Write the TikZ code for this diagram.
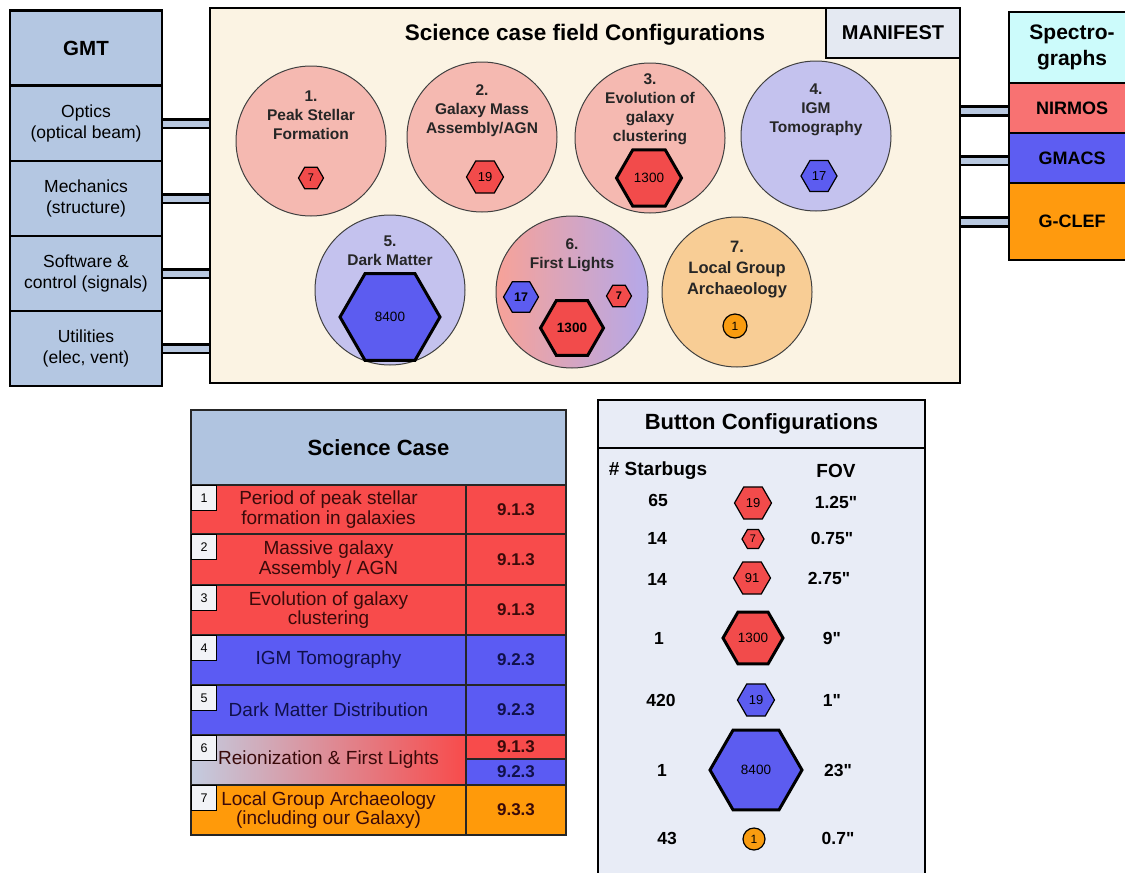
\documentclass[tikz,border=0pt]{standalone}
\usepackage{fontspec}
\setmainfont{Liberation Sans}[Ligatures=TeXOff]
\usetikzlibrary{shapes.geometric}
\pgfdeclarelayer{background}
\pgfsetlayers{background,main}
\newcommand\fsz[2]{\fontsize{#1}{#2}\selectfont}
\definecolor{gmtblue}{HTML}{B4C7E2}
\definecolor{cream}{HTML}{FBF3E3}
\definecolor{manif}{HTML}{E4E9F2}
\definecolor{cyanc}{HTML}{CCFBFB}
\definecolor{nirmos}{HTML}{F87272}
\definecolor{gmacs}{HTML}{5D5DF2}
\definecolor{gclef}{HTML}{FF9A0E}
\definecolor{pinkc}{HTML}{F5B9B1}
\definecolor{pinkd}{HTML}{F7A298}
\definecolor{lavc}{HTML}{C4C2EE}
\definecolor{lavd}{HTML}{B4A8EA}
\definecolor{peach}{HTML}{F8CD95}
\definecolor{hexred}{HTML}{F24B4B}
\definecolor{hexblue}{HTML}{5C5CF0}
\definecolor{orangec}{HTML}{F99C10}
\definecolor{tabhead}{HTML}{B0C4E0}
\definecolor{rowred}{HTML}{F84B4B}
\definecolor{rowblue}{HTML}{5B5BF3}
\definecolor{roworange}{HTML}{FF9A0A}
\definecolor{rowgray}{HTML}{C3CCE0}
\definecolor{btnbg}{HTML}{E8ECF6}
\definecolor{linkblue}{HTML}{B8C8E0}
\definecolor{tabwhite}{HTML}{F2F3F7}
\definecolor{txtred}{HTML}{3A0A0A}
\definecolor{txtblue}{HTML}{10104A}
\tikzset{
  frameline/.style={draw=black, line width=2.6pt},
  gcell/.style={frameline, fill=gmtblue, minimum width=152pt, minimum height=75pt, inner sep=0pt, align=center, font=\fsz{17.5}{21}},
  scell/.style={frameline, minimum width=126pt, inner sep=0pt, align=center, font=\bfseries\fsz{18}{22}},
  link/.style={draw=black, line width=2.6pt, double=linkblue, double distance=6pt},
  circ/.style={circle, draw=black!75, line width=1pt, minimum size=150pt, inner sep=0pt},
  ctext/.style={align=center, font=\bfseries\fsz{15.5}{19}, text=black!85, inner sep=0pt},
  hex/.style={regular polygon, regular polygon sides=6, draw=black, line width=1.2pt, inner sep=0pt},
  hexthick/.style={hex, line width=3pt},
  dot/.style={circle, draw=black, line width=1.2pt, fill=orangec, inner sep=0pt},
  tcell/.style={draw=black!85, line width=1.8pt, inner sep=0pt, align=center, font=\fsz{19}{19.5}},
  ncell/.style={draw=black!85, line width=1.8pt, inner sep=0pt, font=\bfseries\fsz{17}{20}, minimum width=100pt},
  tabbox/.style={draw=black, line width=1.2pt, fill=tabwhite, minimum width=25pt, minimum height=25pt, inner sep=0pt, font=\fsz{12.5}{14}},
  btxt/.style={font=\bfseries\fsz{17.5}{20}, inner sep=0pt},
}
\begin{document}
\begin{tikzpicture}[x=1pt, y=-1pt]
\useasboundingbox (0,0) rectangle (1125,873);
% ---------- GMT column ----------
\node[gcell, font=\bfseries\fsz{20.5}{24}] (gmt) at (86,48) {GMT};
\node[gcell] (optics) at (86,123.5) {Optics\\(optical beam)};
\node[gcell] (mech) at (86,198.5) {Mechanics\\(structure)};
\node[gcell] (soft) at (86,273.5) {Software \&\\control (signals)};
\node[gcell] (util) at (86,348.5) {Utilities\\(elec, vent)};
% ---------- main frame ----------
\node[frameline, fill=cream, minimum width=750pt, minimum height=375pt, inner sep=0pt] (frame) at (585,195.5) {};
\node[frameline, fill=manif, minimum width=134pt, minimum height=50pt, inner sep=0pt, font=\bfseries\fsz{20}{24}] (manifest) at (893,33) {MANIFEST};
\node[font=\bfseries\fsz{22.5}{26}, inner sep=0pt] (title) at (585,35) {Science case field Configurations};
% ---------- spectrographs ----------
\node[scell, fill=cyanc, minimum height=71pt, font=\bfseries\fsz{21}{26}] (spec) at (1072,47.5) {Spectro-\\graphs};
\node[scell, fill=nirmos, minimum height=50pt] (nirmos) at (1072,108) {NIRMOS};
\node[scell, fill=gmacs, minimum height=50pt] (gmacs) at (1072,158) {GMACS};
\node[scell, fill=gclef, minimum height=77pt] (gclef) at (1072,221.5) {G-CLEF};
% ---------- connectors ----------
\begin{pgfonlayer}{background}
\draw[link] (optics.east) -- (optics.east -| frame.west);
\draw[link] (mech.east) -- (mech.east -| frame.west);
\draw[link] (soft.east) -- (soft.east -| frame.west);
\draw[link] (util.east) -- (util.east -| frame.west);
\draw[link] ([yshift=-3pt]nirmos.west) -- ([yshift=-3pt]nirmos.west -| frame.east);
\draw[link] ([yshift=-2.5pt]gmacs.west) -- ([yshift=-2.5pt]gmacs.west -| frame.east);
\draw[link] ([yshift=-0.5pt]gclef.west) -- ([yshift=-0.5pt]gclef.west -| frame.east);
\end{pgfonlayer}
% ---------- circles ----------
\node[circ, fill=pinkc] (c1) at (311,141) {};
\node[ctext] (t1) at (311,115) {1.\\Peak Stellar\\Formation};
\node[hex, fill=hexred, minimum size=25pt, font=\fsz{11}{12}] (h1) at (311,178) {7};

\node[circ, fill=pinkc] (c2) at (482,137) {};
\node[ctext] (t2) at (482,111) {2.\\Galaxy Mass\\Assembly/AGN};
\node[hex, fill=hexred, minimum size=37pt, font=\fsz{13}{14}] (h2) at (485,177) {19};

\node[circ, fill=pinkc] (c3) at (650,138) {};
\node[ctext] (t3) at (650,109) {3.\\Evolution of\\galaxy\\clustering};
\node[hexthick, fill=hexred, minimum size=65pt, font=\fsz{13.5}{14}] (h3) at (649,178) {1300};

\node[circ, fill=lavc] (c4) at (816,136) {};
\node[ctext] (t4) at (816,110) {4.\\IGM\\Tomography};
\node[hex, fill=hexblue, minimum size=36pt, font=\fsz{13}{14}] (h4) at (819,176) {17};

\node[circ, fill=lavc] (c5) at (390,290) {};
\node[ctext] (t5) at (390,251) {5.\\Dark Matter};
\node[hexthick, fill=hexblue, minimum size=100pt, font=\fsz{13.5}{14}] (h5) at (390,317) {8400};

\node[circ, left color=pinkd, right color=lavd, minimum size=152pt] (c6) at (572,292) {};
\node[ctext] (t6) at (572,255) {6.\\First Lights};
\node[hex, fill=hexblue, minimum size=35pt, font=\bfseries\fsz{12.5}{14}] (h6a) at (521,297) {17};
\node[hex, fill=hexred, minimum size=25pt, font=\bfseries\fsz{11}{12}] (h6b) at (619,296) {7};
\node[hexthick, fill=hexred, minimum size=63pt, font=\bfseries\fsz{13.5}{14}] (h6c) at (572,328) {1300};

\node[circ, fill=peach] (c7) at (737,292) {};
\node[ctext, font=\bfseries\fsz{16.5}{21}] (t7) at (737,270) {7.\\Local Group\\Archaeology};
\node[dot, minimum size=24pt, font=\fsz{12}{13}] (h7) at (735,326) {1};
% ---------- Science case table ----------
\node[tcell, fill=tabhead, minimum width=375pt, minimum height=75pt, font=\bfseries\fsz{22}{26}] (sch) at (378.5,447.5) {Science Case};
\node[tcell, fill=rowred, text=txtred, minimum width=275pt, minimum height=49pt] (r1) at (328.5,509.5) {Period of peak stellar\\formation in galaxies};
\node[ncell, fill=rowred, text=txtred, minimum height=49pt] (n1) at (516,509.5) {9.1.3};
\node[tcell, fill=rowred, text=txtred, minimum width=275pt, minimum height=51pt] (r2) at (328.5,559.5) {Massive galaxy\\Assembly / AGN};
\node[ncell, fill=rowred, text=txtred, minimum height=51pt] (n2) at (516,559.5) {9.1.3};
\node[tcell, fill=rowred, text=txtred, minimum width=275pt, minimum height=50pt] (r3) at (328.5,610) {Evolution of galaxy\\clustering};
\node[ncell, fill=rowred, text=txtred, minimum height=50pt] (n3) at (516,610) {9.1.3};
\node[tcell, fill=rowblue, text=txtblue, minimum width=275pt, minimum height=50pt] (r4) at (328.5,660) {IGM Tomography};
\node[ncell, fill=rowblue, text=txtblue, minimum height=50pt] (n4) at (516,660) {9.2.3};
\node[tcell, fill=rowblue, text=txtblue, minimum width=275pt, minimum height=50pt] (r5) at (328.5,710) {Dark Matter Distribution};
\node[ncell, fill=rowblue, text=txtblue, minimum height=50pt] (n5) at (516,710) {9.2.3};
\node[tcell, left color=rowgray, right color=rowred, text=txtred, minimum width=275pt, minimum height=50pt] (r6) at (328.5,760) {Reionization \& First Lights};
\node[ncell, fill=rowred, text=txtred, minimum height=24pt] (n6a) at (516,747) {9.1.3};
\node[ncell, fill=rowblue, text=txtblue, minimum height=26pt] (n6b) at (516,772) {9.2.3};
\node[tcell, fill=roworange, text=txtred, minimum width=275pt, minimum height=50pt] (r7) at (328.5,810) {Local Group Archaeology\\(including our Galaxy)};
\node[ncell, fill=roworange, text=txtred, minimum height=50pt] (n7) at (516,810) {9.3.3};
\foreach \i/\y in {1/485,2/534,3/585,4/635,5/685,6/735,7/785}
  \node[tabbox, anchor=north west] (tab\i) at (191,\y) {\i};
% ---------- Button configurations ----------
\node[frameline, fill=btnbg, minimum width=327pt, minimum height=480pt, inner sep=0pt] (bbody) at (761.5,688) {};
\node[frameline, fill=btnbg, minimum width=327pt, minimum height=48pt, inner sep=0pt, font=\bfseries\fsz{22}{26}] (bhead) at (761.5,424) {Button Configurations};
\node[btxt, font=\bfseries\fsz{19}{22}] (sbh) at (658,471) {\# Starbugs};
\node[btxt, font=\bfseries\fsz{19}{22}] (fovh) at (836,471) {FOV};
\node[hex, fill=hexred, minimum size=37pt, font=\fsz{13}{14}] (b1) at (753,503) {19};
\node[hex, fill=hexred, minimum size=22pt, font=\fsz{11}{12}] (b2) at (753,539) {7};
\node[hex, fill=hexred, minimum size=37pt, font=\fsz{13}{14}] (b3) at (752,578) {91};
\node[hexthick, fill=hexred, minimum size=60pt, font=\fsz{13.5}{14}] (b4) at (753,638) {1300};
\node[hex, fill=hexblue, minimum size=37pt, font=\fsz{13}{14}] (b5) at (756,700) {19};
\node[hexthick, fill=hexblue, minimum size=92pt, font=\fsz{13.5}{14}] (b6) at (756,770) {8400};
\node[dot, minimum size=22pt, font=\fsz{12}{13}] (b7) at (754,839) {1};
\node[btxt] (s1) at (658,500) {65};
\node[btxt] (s2) at (657,538) {14};
\node[btxt] (s3) at (657,579) {14};
\node[btxt] (s4) at (659,638) {1};
\node[btxt] (s5) at (661,700) {420};
\node[btxt] (s6) at (662,770) {1};
\node[btxt] (s7) at (667,838) {43};
\node[btxt] (f1) at (836,502) {1.25"};
\node[btxt] (f2) at (832,538) {0.75"};
\node[btxt] (f3) at (829,578) {2.75"};
\node[btxt] (f4) at (832,638) {9"};
\node[btxt] (f5) at (832,700) {1"};
\node[btxt] (f6) at (838,770) {23"};
\node[btxt] (f7) at (838,838) {0.7"};
\end{tikzpicture}
\end{document}
